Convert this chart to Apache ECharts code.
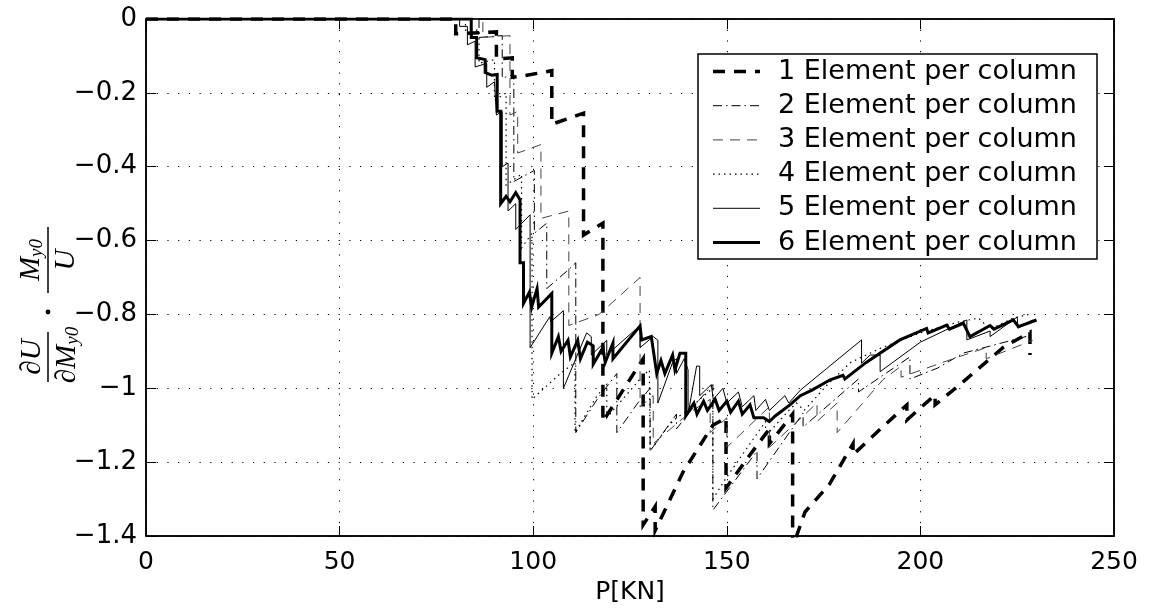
<!DOCTYPE html>
<html>
<head>
<meta charset="utf-8">
<script src="https://cdn.jsdelivr.net/npm/echarts@6/dist/echarts.min.js"></script>
<style>html,body{margin:0;padding:0;background:#fff}#c{width:1150px;height:613px}</style>
</head>
<body>
<div id="c"></div>
<script>
var seriesNames = ['1 Element per column','2 Element per column','3 Element per column','4 Element per column','5 Element per column','6 Element per column'];
var xTicks = [0,50,100,150,200,250];
var yTicks = [0,-0.2,-0.4,-0.6,-0.8,-1,-1.2,-1.4];

var s1 = [[0,0],[80,0],[80,-0.04],[90.5,-0.035],[90.5,-0.108],[94.6,-0.105],[94.6,-0.158],[97,-0.155],[104.8,-0.14],[104.8,-0.285],[113,-0.255],[113,-0.585],[118,-0.553],[118,-1.09],[128.4,-0.92],[128.4,-1.37],[131.5,-1.32],[131.5,-1.385],[138.7,-1.227],[146.4,-1.1],[149.8,-1.08],[149.8,-1.27],[156,-1.18],[161,-1.11],[161,-1.15],[167,-1.07],[167,-1.43],[170.2,-1.335],[176.5,-1.26],[182.6,-1.15],[182.6,-1.18],[190,-1.107],[196.5,-1.045],[196.5,-1.086],[203.8,-1.018],[203.8,-1.045],[210.2,-0.99],[221.3,-0.89],[228.3,-0.848],[228.3,-0.91]];
var s2 = [[0,0],[86,0],[86,-0.05],[92,-0.045],[92,-0.16],[95,-0.15],[95,-0.44],[100.3,-0.41],[100.3,-0.58],[103.5,-0.553],[103.5,-0.73],[109,-0.68],[111,-0.66],[111,-1.12],[116.5,-1.03],[121.6,-0.96],[121.6,-1.12],[127,-1.04],[130.2,-1.0],[130.2,-1.17],[137,-1.07],[137,-1.11],[143,-1.03],[146.4,-0.99],[146.4,-1.33],[157.8,-1.17],[157.8,-1.245],[169.7,-1.067],[169.7,-1.105],[184,-0.975],[184,-1.01],[197.3,-0.915],[197.3,-0.975],[204.5,-0.945],[211,-0.905],[220,-0.88],[229,-0.855]];
var s3 = [[0,0],[87,0],[87,-0.05],[94,-0.045],[94,-0.26],[96,-0.25],[96,-0.363],[102,-0.34],[102,-0.54],[109.2,-0.52],[109.2,-0.83],[117,-0.8],[127.6,-0.7],[127.6,-1.05],[131,-1.02],[131,-1.15],[140.5,-1.065],[145.7,-1.03],[145.7,-1.12],[150,-1.08],[150,-1.16],[161,-1.05],[161,-1.16],[173.3,-1.04],[173.3,-1.09],[178.5,-1.04],[178.5,-1.12],[190.3,-0.977],[195,-0.94],[195,-0.97],[209,-0.918],[217,-0.89],[217,-0.92],[229,-0.87]];
var s4 = [[0,0],[82.5,0],[82.5,-0.03],[86,-0.03],[86,-0.12],[90,-0.11],[90,-0.22],[93,-0.2],[93,-0.45],[97,-0.42],[97,-0.62],[99.7,-0.58],[99.7,-1.03],[107,-0.96],[110.8,-0.93],[110.8,-1.12],[116.5,-1.02],[119,-0.99],[119,-1.08],[128,-0.97],[130,-0.95],[130.2,-1.17],[135,-1.1],[137,-1.08],[140,-1.06],[143,-1.03],[146.4,-1.0],[146.4,-1.3],[150,-1.24],[156,-1.15],[160,-1.09],[160,-1.13],[166,-1.06],[168,-1.04],[170,-1.06],[176,-0.99],[182,-0.93],[190,-0.89],[200,-0.85],[210,-0.82],[215,-0.81],[218,-0.84],[224,-0.81],[228,-0.8]];
var s5 = [[0,0],[81,0],[81,-0.02],[83,-0.02],[83,-0.07],[85,-0.06],[85,-0.13],[88,-0.12],[88,-0.185],[90,-0.17],[90.5,-0.26],[92,-0.25],[92,-0.4],[93.5,-0.39],[93.5,-0.52],[95.5,-0.5],[95.5,-0.57],[99.2,-0.53],[99.2,-0.89],[104.3,-0.806],[104.5,-0.82],[107.8,-0.79],[107.8,-1.0],[113.8,-0.85],[115,-0.86],[115,-0.91],[119,-0.87],[119,-0.91],[127.6,-0.83],[127.6,-0.89],[131,-0.86],[132.2,-0.87],[132.2,-1.04],[136,-0.93],[137,-0.92],[137,-0.96],[139,-0.92],[140,-0.95],[140,-1.07],[142.2,-0.94],[143,-0.94],[143,-1.02],[146,-0.99],[146.5,-1.03],[149,-1.0],[150,-1.04],[153,-1.01],[154,-1.05],[157,-1.02],[157.5,-1.06],[160,-1.03],[161,-1.06],[165,-1.02],[166,-1.04],[169,-1.005],[184.8,-0.869],[184.8,-0.932],[187,-0.91],[189.6,-0.91],[189.6,-0.955],[200,-0.875],[212,-0.815],[212,-0.869],[218,-0.845],[218,-0.86],[225,-0.807],[225.2,-0.837],[229,-0.815]];
var s6 = [[0,0],[84,0],[84,-0.05],[85.4,-0.05],[85.4,-0.105],[87.6,-0.11],[87.6,-0.145],[89.3,-0.152],[90.7,-0.15],[90.7,-0.25],[91.6,-0.25],[91.6,-0.5],[93,-0.48],[94,-0.495],[95.5,-0.47],[96.6,-0.49],[96.6,-0.66],[97.5,-0.66],[97.5,-0.77],[99,-0.74],[99.6,-0.78],[101,-0.73],[101.4,-0.78],[104.8,-0.743],[104.8,-0.905],[106.5,-0.86],[107.2,-0.9],[109,-0.87],[109.6,-0.915],[111.5,-0.87],[112.2,-0.92],[114,-0.875],[115.5,-0.885],[115.5,-0.935],[118,-0.89],[118.6,-0.93],[120.6,-0.877],[120.6,-0.92],[127.6,-0.831],[128,-0.869],[130.5,-0.86],[131.9,-0.96],[133,-0.925],[134,-0.96],[136,-0.91],[136.6,-0.95],[137.9,-0.905],[139.4,-0.905],[139.4,-1.075],[141.5,-1.04],[142.3,-1.07],[144,-1.035],[145,-1.06],[147,-1.03],[148,-1.06],[150,-1.035],[151,-1.065],[153,-1.035],[154,-1.07],[156,-1.045],[157,-1.08],[159.5,-1.08],[161,-1.09],[162.5,-1.075],[166.3,-1.045],[169,-1.02],[172,-1.005],[176.7,-0.977],[180,-0.965],[180.5,-0.975],[186,-0.93],[194.7,-0.869],[201.6,-0.838],[202,-0.85],[206.8,-0.829],[207.5,-0.84],[211.1,-0.824],[212.8,-0.86],[218,-0.83],[219,-0.84],[224,-0.815],[225.3,-0.833],[230,-0.815]];

var allData = [s1,s2,s3,s4,s5,s6];
var styles = [
  {width:3.5, type:[12,9], color:'#000'},
  {width:1, type:[9,4,1.5,4], color:'#000'},
  {width:1, type:[10,7], color:'#444'},
  {width:1.2, type:[1.5,4], color:'#000'},
  {width:1, type:'solid', color:'#000'},
  {width:3, type:'solid', color:'#000'}
];

function yFmt(v){
  var r = Math.round(v*10)/10;
  if (r === 0) return '0';
  return (r < 0 ? '\u2212' : '') + String(Math.abs(r));
}

var chart = echarts.init(document.getElementById('c'), null, {renderer:'canvas'});
var font = 'DejaVu Sans';
var gridLine = {show:true, lineStyle:{color:'#000', width:1, type:[1.2,9.5]}};

// legend drawn as graphic elements (box, line samples, real text)
var legendEls = [{type:'rect', z:10, shape:{x:698, y:54, width:399, height:205}, style:{fill:'#fff', stroke:'#000', lineWidth:1.5}}];
seriesNames.forEach(function(n,i){
  var y = 71.5 + i*34.2;
  var st = styles[i];
  legendEls.push({type:'line', z:11, shape:{x1:713, y1:y, x2:760, y2:y},
    style:{stroke:st.color, lineWidth:st.width, lineDash: (st.type === 'solid' ? null : st.type)}});
  legendEls.push({type:'text', z:11, x:778, y:y, style:{text:n, font:'27px "DejaVu Sans"', fill:'#000', verticalAlign:'middle', align:'left'}});
});

var option = {
  animation:false,
  backgroundColor:'#fff',
  textStyle:{fontFamily:font, color:'#000'},
  grid:{left:146, right:36, top:19, bottom:77, show:true, borderColor:'#000', borderWidth:1.5, backgroundColor:'transparent'},
  xAxis:[{
    type:'value', min:0, max:250, interval:50, position:'bottom',
    name:'P[KN]', nameLocation:'middle', nameGap:43,
    nameTextStyle:{fontFamily:font, fontSize:25, color:'#000'},
    axisLine:{show:true, onZero:false, lineStyle:{color:'#000', width:1.5}},
    axisTick:{show:true, inside:true, length:10, lineStyle:{color:'#000', width:1}},
    axisLabel:{fontFamily:font, fontSize:25, color:'#000', margin:14, formatter:function(v){return String(v);}},
    splitLine:gridLine
  },{
    type:'value', min:0, max:250, interval:50, position:'top',
    axisLine:{show:true, onZero:false, lineStyle:{color:'#000', width:1.5}},
    axisTick:{show:true, inside:true, length:10, lineStyle:{color:'#000', width:1}},
    axisLabel:{show:false}, splitLine:{show:false}
  }],
  yAxis:[{
    type:'value', min:-1.4, max:0, interval:0.2, position:'left',
    axisLine:{show:true, onZero:false, lineStyle:{color:'#000', width:1.5}},
    axisTick:{show:true, inside:true, length:10, lineStyle:{color:'#000', width:1}},
    axisLabel:{fontFamily:font, fontSize:26, color:'#000', margin:9, formatter:yFmt},
    splitLine:gridLine
  },{
    type:'value', min:-1.4, max:0, interval:0.2, position:'right',
    axisLine:{show:true, onZero:false, lineStyle:{color:'#000', width:1.5}},
    axisTick:{show:true, inside:true, length:10, lineStyle:{color:'#000', width:1}},
    axisLabel:{show:false}, splitLine:{show:false}
  }],
  series: allData.map(function(d,i){
    return {
      name: seriesNames[i], type:'line', data:d, showSymbol:false, symbol:'none',
      xAxisIndex:0, yAxisIndex:0, clip:true,
      lineStyle:{width:styles[i].width, type:styles[i].type, color:styles[i].color, join:'miter'},
      itemStyle:{color:styles[i].color},
      z: 2+i
    };
  }),
  graphic: legendEls.concat([
    {type:'group', x:48, y:305, rotation:Math.PI/2, z:10, children:[
      {type:'text', x:-52, y:-16, style:{text:'\u2202U', font:'italic 29px "Liberation Serif"', fill:'#000', align:'center', verticalAlign:'middle'}},
      {type:'line', shape:{x1:-77, y1:0, x2:-27, y2:0}, style:{stroke:'#000', lineWidth:1.5}},
      {type:'text', x:-50, y:19, style:{text:'{a|\u2202M}{s|y0}', rich:{a:{font:'italic 29px "Liberation Serif"', fill:'#000'}, s:{font:'italic 19px "Liberation Serif"', fill:'#000', padding:[11,0,0,0]}}, fill:'#000', align:'center', verticalAlign:'middle'}},
      {type:'circle', shape:{cx:-7, cy:0, r:2.4}, style:{fill:'#000'}},
      {type:'text', x:45, y:-17, style:{text:'{a|M}{s|y0}', rich:{a:{font:'italic 29px "Liberation Serif"', fill:'#000'}, s:{font:'italic 19px "Liberation Serif"', fill:'#000', padding:[11,0,0,0]}}, fill:'#000', align:'center', verticalAlign:'middle'}},
      {type:'line', shape:{x1:12, y1:0, x2:78, y2:0}, style:{stroke:'#000', lineWidth:1.5}},
      {type:'text', x:45, y:18, style:{text:'U', font:'italic 29px "Liberation Serif"', fill:'#000', align:'center', verticalAlign:'middle'}}
    ]}
  ])
};
chart.setOption(option);
</script>
</body>
</html>
